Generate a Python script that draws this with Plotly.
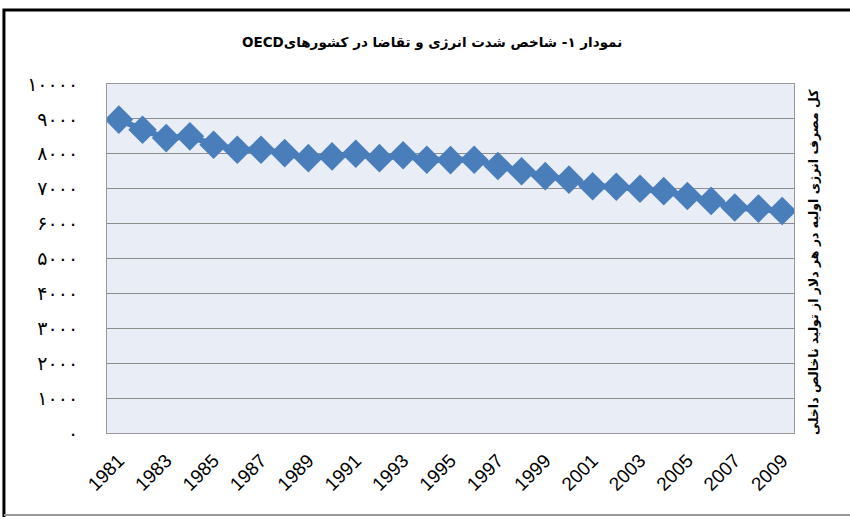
import plotly.graph_objects as go

years = list(range(1981, 2010))
intensity = [8980, 8690, 8450, 8500, 8260, 8115, 8115, 8020, 7875, 7925,
             8000, 7875, 7960, 7830, 7820, 7830, 7650, 7500, 7360, 7260,
             7070, 7055, 7000, 6930, 6790, 6650, 6460, 6430, 6360]

y_ticks = [0, 1000, 2000, 3000, 4000, 5000, 6000, 7000, 8000, 9000, 10000]
y_labels = ['۰', '۱۰۰۰', '۲۰۰۰', '۳۰۰۰', '۴۰۰۰', '۵۰۰۰', '۶۰۰۰', '۷۰۰۰', '۸۰۰۰', '۹۰۰۰', '۱۰۰۰۰']
x_ticks = years[::2]

# OECD first in logical order so it lands on the left, as in the source
title_text = '<b>OECD' + 'نمودار ۱- شاخص شدت انرژی و تقاضا در کشورهای</b>'
ytitle_text = '<b>کل مصرف انرژی اولیه در هر دلار از تولید ناخالص داخلی</b>'

fig = go.Figure()
fig.add_trace(go.Scatter(
    x=years, y=intensity,
    mode='lines+markers',
    line=dict(color='#4A7EBB', width=6),
    marker=dict(symbol='diamond', size=22, color='#4A7EBB'),
    showlegend=False
))

fig.update_layout(
    width=850, height=517,
    margin=dict(l=107, r=56, t=84, b=84),
    paper_bgcolor='white',
    plot_bgcolor='#E8EDF6',
    font=dict(family='DejaVu Sans', color='black'),
    xaxis=dict(
        range=[1980.5, 2009.5],
        tickvals=x_ticks,
        ticktext=[str(v) for v in x_ticks],
        tickangle=-45,
        tickfont=dict(family='Liberation Sans', size=19),
        showgrid=False, zeroline=False,
        showline=True, linecolor='#999999', mirror=True,
        ticks='', automargin=False, ticklabelstandoff=8
    ),
    yaxis=dict(
        range=[0, 10000],
        tickvals=y_ticks,
        ticktext=y_labels,
        tickfont=dict(family='DejaVu Sans', size=19),
        showgrid=True, gridcolor='#8C8C8C', gridwidth=1,
        zeroline=False,
        showline=True, linecolor='#999999', mirror=True,
        ticks='', ticklabelstandoff=24
    ),
    shapes=[
        dict(type='rect', xref='paper', yref='paper',
             x0=-0.150, x1=1.09, y0=-0.30, y1=1.212,
             line=dict(color='black', width=3)),
        dict(type='line', xref='paper', yref='paper',
             x0=-0.150, x1=1.09, y0=-0.235, y1=-0.235,
             line=dict(color='#999999', width=2)),
    ],
    annotations=[
        dict(text=title_text, xref='paper', yref='paper', x=0.473, y=1.12,
             yanchor='middle', showarrow=False,
             font=dict(size=13.5, family='DejaVu Sans')),
        dict(text=ytitle_text, xref='paper', yref='paper', x=1.029, y=0.49,
             xanchor='center', yanchor='middle',
             textangle=-90, showarrow=False,
             font=dict(size=12.5, family='DejaVu Sans'))
    ]
)

fig.write_html('out.html', config={'displayModeBar': False},
               post_script="document.body.style.margin='0';")
